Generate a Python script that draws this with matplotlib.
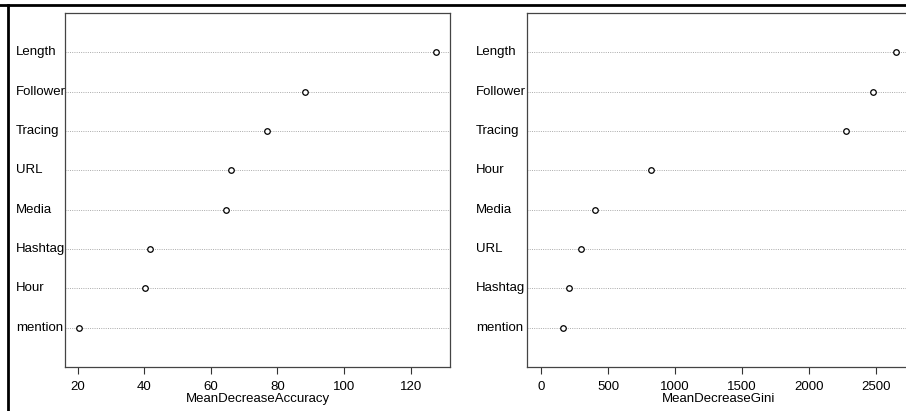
import numpy as np
import matplotlib.pyplot as plt
from matplotlib.lines import Line2D
from matplotlib.transforms import blended_transform_factory

# variable importance, listed top to bottom
acc_labels = ["Length", "Follower", "Tracing", "URL", "Media", "Hashtag", "Hour", "mention"]
acc_values = [127.5, 88.2, 76.8, 66.0, 64.5, 41.7, 40.2, 20.5]
acc_ticks = [20, 40, 60, 80, 100, 120]

gini_labels = ["Length", "Follower", "Tracing", "Hour", "Media", "URL", "Hashtag", "mention"]
gini_values = [2650, 2478, 2276, 820, 403, 298, 209, 164]
gini_ticks = [0, 500, 1000, 1500, 2000, 2500]

plt.rcParams['font.family'] = ['Liberation Sans', 'DejaVu Sans']
plt.rcParams['font.size'] = 9.5

W, H = 906, 411
fig = plt.figure(figsize=(W / 100, H / 100), dpi=100)


def px_axes(x0, y0, x1, y1):
    # pixel box (top-left origin) -> axes
    return fig.add_axes([x0 / W, 1 - y1 / H, (x1 - x0) / W, (y1 - y0) / H])


def dotchart(ax, labels, values, ticks, xlabel, xmin, label_x):
    n = len(values)
    ypos = np.arange(n, 0, -1)
    lo = xmin if xmin is not None else min(values)
    hi = max(values)
    ext = (hi - lo) * 0.04
    ax.set_xlim(lo - ext, hi + ext)
    ax.set_ylim(0, n + 1)
    for y in ypos:
        ax.axhline(y, color='#aaaaaa', lw=0.7, linestyle=(0, (1, 1.3)), zorder=1)
    ax.plot(values, ypos, 'o', mfc='white', mec='black', ms=4, mew=0.9, zorder=3)
    ax.set_yticks([])
    ax.set_xticks(ticks)
    ax.set_xticklabels([str(t) for t in ticks])
    ax.tick_params(axis='x', length=5, width=0.8, pad=5, labelsize=9.5, color='#333333')
    ax.set_xlabel(xlabel, fontsize=9.5, labelpad=0)
    for s in ax.spines.values():
        s.set_color('#444444')
        s.set_linewidth(0.9)
    tr = blended_transform_factory(ax.transAxes, ax.transData)
    for lab, y in zip(labels, ypos):
        ax.text(label_x, y, lab, transform=tr, ha='left', va='center', fontsize=9.5)


ax1 = px_axes(65, 13, 450, 367)
dotchart(ax1, acc_labels, acc_values, acc_ticks, "MeanDecreaseAccuracy", None, (16 - 65) / 385)

ax2 = px_axes(527, 13, 910.6, 367)
dotchart(ax2, gini_labels, gini_values, gini_ticks, "MeanDecreaseGini", 0, (476 - 527) / 383.6)

# screenshot frame
fig.add_artist(Line2D([0, 1], [1 - 5.5 / H, 1 - 5.5 / H], transform=fig.transFigure, color='black', lw=2))
fig.add_artist(Line2D([8 / W, 8 / W], [0, 1 - 5.5 / H], transform=fig.transFigure, color='black', lw=2))

fig.savefig("out.png", dpi=100)
